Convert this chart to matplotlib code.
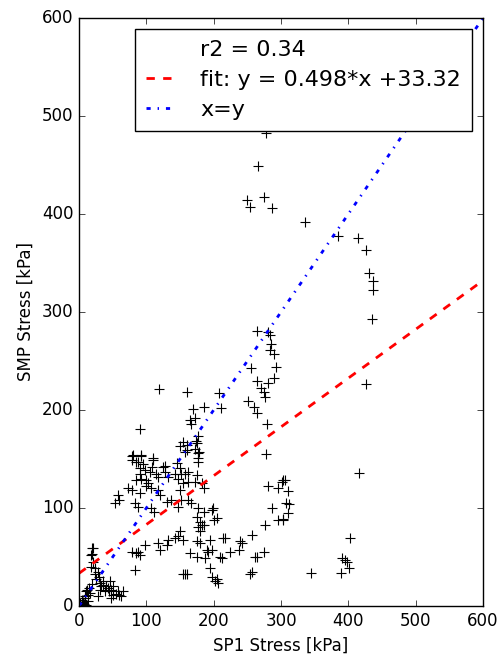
import matplotlib
matplotlib.use("Agg")
from matplotlib import pyplot as plt
import numpy as np

# SP1 vs SMP stress readings [kPa]
sp1 = [277, 266, 250, 254, 274, 286, 336, 385, 415, 426, 431, 436, 436, 435, 426,
       416, 303, 306, 311, 312, 311, 303, 402, 390, 395, 398, 401, 389, 345,
       265, 280, 283, 285, 284, 290, 292, 255, 289, 265, 280, 270, 274, 276, 251,
       260, 265, 279, 277, 119, 161, 208, 211, 185, 169, 165, 172, 167, 176, 173,
       155, 160, 172, 178, 176, 91, 78, 92, 85, 95, 110, 127, 145, 108,
       80, 92, 78, 88, 110, 90, 98, 105, 115, 125, 127, 117, 90, 92, 100, 102,
       85, 73, 78, 90, 100, 107, 117, 120, 58, 60, 53, 83, 88, 107, 112, 137,
       130, 150, 150, 152, 147, 157, 150, 157, 132, 142, 154, 147, 152,
       160, 175, 177, 177, 162, 175, 172, 162, 182, 185, 301, 281, 296,
       308, 286, 303, 296, 276, 177, 185, 197, 199, 175, 205, 200, 180, 185, 177,
       162, 167, 21, 18, 21, 18, 23, 28, 11, 13, 16, 6, 11, 31, 33, 36, 31, 38,
       43, 48, 51, 58, 60, 65, 63, 48, 28, 9, 46, 83, 78, 85, 90, 88, 98, 117,
       120, 130, 132, 142, 147, 150, 154, 157, 182, 180, 175, 180, 195, 217, 239,
       242, 237, 257, 165, 175, 187, 192, 197, 190, 209, 212, 224, 264, 274, 257,
       195, 197, 205, 207, 202, 160, 261, 214, 254, 155, 19, 19,
       2, 4, 6, 9, 12, 15, 20, 25, 30, 35, 40, 45, 55, 3, 8, 14, 24, 50]
smp = [483, 449, 414, 407, 417, 406, 392, 377, 375, 363, 340, 332, 322, 293, 226,
       136, 129, 129, 117, 104, 95, 88, 69, 49, 47, 45, 39, 34, 34,
       281, 280, 276, 267, 261, 257, 244, 243, 233, 230, 227, 222, 218, 213, 209,
       203, 197, 186, 155, 221, 218, 217, 202, 203, 201, 190, 192, 186, 173, 168,
       167, 159, 160, 157, 151, 181, 153, 154, 147, 145, 149, 143, 146, 142,
       154, 153, 149, 147, 151, 141, 139, 137, 135, 142, 137, 132, 135, 130, 129, 125,
       129, 120, 118, 115, 122, 120, 118, 113, 113, 108, 105, 105, 101, 100, 96, 108,
       106, 118, 141, 135, 130, 135, 163, 157, 132, 135, 125, 101, 108,
       164, 166, 156, 147, 137, 134, 127, 127, 125, 120, 127, 122, 120,
       105, 100, 89, 88, 83, 100, 96, 98, 100, 91, 90, 88, 86, 83, 81,
       108, 105, 59, 52, 45, 40, 39, 35, 15, 11, 13, 3, 1, 23, 20, 21, 16, 15,
       18, 16, 11, 15, 11, 15, 10, 8, 10, 10, 25, 37, 55, 54, 52, 55, 62, 64,
       57, 62, 67, 69, 71, 76, 67, 33, 83, 76, 66, 64, 67, 69, 66,
       64, 57, 72, 54, 50, 49, 55, 57, 57, 50, 49, 55, 50, 55, 35,
       39, 30, 28, 23, 25, 33, 50, 69, 33, 33, 59, 53,
       3, 6, 4, 8, 16, 18, 22, 28, 30, 25, 20, 15, 12, 0, 2, 5, 33, 20]

slope = 0.498
intercept = 33.32
r2 = 0.34

plt.style.use('classic')
fig = plt.figure(figsize=(4.97, 6.63), dpi=100, facecolor='white')
ax = fig.add_axes([0.159, 0.086, 0.813, 0.887])

ax.plot(sp1, smp, 'k+', markersize=7, markeredgewidth=0.8)
ax.plot([], [], ' ', label='r2 = %.2f' % r2)
xf = np.array([0, 600])
ax.plot(xf, slope * xf + intercept, 'r--', lw=2,
        label='fit: y = %.3f*x +%.2f' % (slope, intercept))
ax.plot(xf, xf, 'b-.', lw=2, label='x=y')

ax.set_xlim(0, 600)
ax.set_ylim(0, 600)
ax.set_xlabel('SP1 Stress [kPa]')
ax.set_ylabel('SMP Stress [kPa]')
ax.legend(loc='upper right', fontsize=16, numpoints=1, handlelength=1.35,
          handletextpad=1.1, borderpad=0.5, labelspacing=0.45)

fig.savefig('out.png', dpi=100, facecolor='white')
